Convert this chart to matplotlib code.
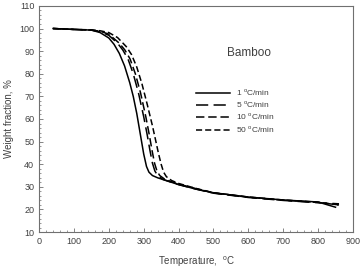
import matplotlib
matplotlib.use("Agg")
import matplotlib.pyplot as plt
from matplotlib.ticker import MultipleLocator

plt.rcParams['font.family'] = ['Liberation Sans', 'DejaVu Sans']
plt.rcParams['mathtext.fontset'] = 'custom'
plt.rcParams['mathtext.rm'] = 'Liberation Sans'

# Data
t1 = [40, 100, 150, 175, 200, 215, 230, 245, 260, 270, 280, 290, 300, 308, 315, 325, 340, 370, 400, 450, 500, 600, 700, 800, 850]
w1 = [100, 99.6, 99.3, 98.2, 95.8, 93, 89, 83.5, 76, 70, 62.5, 53.5, 44.5, 39, 36.5, 35, 34, 32.5, 31, 29, 27.4, 25.5, 24.2, 23.3, 21]

t5 = [40, 100, 150, 175, 200, 225, 240, 255, 270, 285, 300, 310, 318, 325, 332, 340, 355, 380, 400, 450, 500, 600, 700, 800, 860]
w5 = [100, 99.6, 99.3, 98.6, 97, 93.5, 90.5, 86.5, 80, 71.5, 61, 53, 46, 40.5, 37, 35, 33.3, 32, 31, 29, 27.2, 25.3, 24, 23, 22.5]

t10 = [40, 100, 150, 175, 200, 230, 246, 261, 276, 291, 306, 316, 324, 331, 338, 346, 361, 385, 400, 450, 500, 600, 700, 800, 860]
w10 = [100, 99.6, 99.3, 98.8, 97.5, 93.5, 90.5, 86.5, 80, 71.5, 61, 53, 46, 40.5, 37, 35, 33.3, 32, 31.2, 29.2, 27.3, 25.4, 24.1, 23.1, 22]

t50 = [40, 100, 150, 175, 200, 225, 250, 265, 280, 295, 310, 325, 335, 342, 350, 357, 365, 380, 400, 450, 500, 600, 700, 800, 860]
w50 = [100, 99.6, 99.4, 99.0, 98.2, 96, 92, 88.5, 83, 75.5, 66.5, 57, 50, 45, 40, 36.5, 34.5, 32.8, 31.5, 29.3, 27.4, 25.5, 24.2, 23.2, 22]

labels = [r'1 $^{\rm o}$C/min', r'5 $^{\rm o}$C/min', r'10 $^{\rm o}$C/min', r'50 $^{\rm o}$C/min']
styles = ['-', (0, (8, 3.5)), (0, (5.5, 2.5)), (0, (4, 2))]

fig = plt.figure(figsize=(3.62, 2.68), dpi=100)
ax = fig.add_axes([0.108, 0.134, 0.867, 0.844])

tc = '#404040'
for t, w, ls, lab in zip([t1, t5, t10, t50], [w1, w5, w10, w50], styles, labels):
    ax.plot(t, w, color='black', linestyle=ls, linewidth=1.1, label=lab)

ax.set_xlim(0, 900)
ax.set_ylim(10, 110)
ax.xaxis.set_major_locator(MultipleLocator(100))
ax.xaxis.set_minor_locator(MultipleLocator(20))
ax.yaxis.set_major_locator(MultipleLocator(10))
ax.yaxis.set_minor_locator(MultipleLocator(2))
ax.tick_params(which='both', direction='in', top=False, right=False, colors='#707070',
               labelcolor=tc, labelsize=6.5)
ax.tick_params(which='major', length=3, width=0.6)
ax.tick_params(which='minor', length=1.5, width=0.5)
for s in ax.spines.values():
    s.set_color('#707070')
    s.set_linewidth(0.8)

ax.set_xlabel(r'Temperature,  $^{\rm o}$C', fontsize=7, color=tc, labelpad=6)
ax.set_ylabel('Weight fraction, %', fontsize=7, color=tc, labelpad=4)

ax.text(602, 89, 'Bamboo', fontsize=8.5, color=tc, ha='center', va='center')

leg = ax.legend(loc='upper left', bbox_to_anchor=(0.488, 0.66), frameon=False,
                fontsize=6, handlelength=4.0, handletextpad=0.8, labelspacing=0.2,
                borderpad=0)
for txt in leg.get_texts():
    txt.set_color(tc)

fig.savefig('out.png', dpi=100)
